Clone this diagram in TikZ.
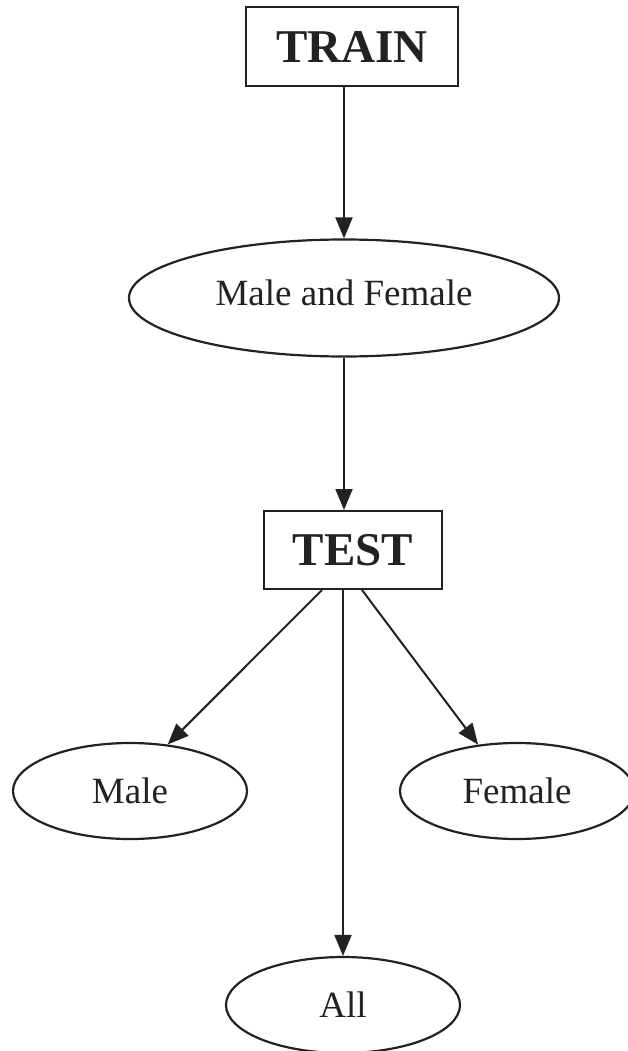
\documentclass[tikz,border=0pt]{standalone}
\usepackage{fontspec}
\setmainfont{Liberation Serif}
\usetikzlibrary{shapes.geometric,arrows.meta}
\definecolor{ink}{HTML}{222222}
\begin{document}
\begin{tikzpicture}[x=1pt,y=-1pt,
  stagebox/.style={draw=ink,line width=2pt,rectangle,inner sep=0pt,
    font=\fontsize{47}{50}\selectfont\bfseries,text=ink},
  groupoval/.style={draw=ink,line width=2.2pt,ellipse,inner sep=0pt,
    minimum width=234pt,minimum height=96pt,
    font=\fontsize{37}{40}\selectfont,text=ink},
  link/.style={draw=ink,line width=2pt,-{Triangle[length=21pt,width=17pt]}}]
\useasboundingbox (0,0) rectangle (627,1051);
\fill[white] (0,0) rectangle (627,1051);

\node[stagebox,minimum width=212pt,minimum height=79pt] (train) at (352,46.5) {TRAIN};
\node[groupoval,minimum width=430pt,minimum height=117pt] (mf) at (344,298)
  {\raisebox{10pt}{Male and Female}};
\node[stagebox,minimum width=178pt,minimum height=78pt] (test) at (353,550) {TEST};
\node[groupoval] (male) at (130,791) {Male};
\node[groupoval] (female) at (517,791) {Female};
\node[groupoval] (all) at (343,1005) {All};

\draw[link] (train.south -| mf.north) -- (mf.north);
\draw[link] (mf.south) -- (mf.south |- test.north);
\draw[link] ([xshift=-31pt]test.south) -- (male.51);
\draw[link] ([xshift=9pt]test.south) -- (female.130);
\draw[link] (test.south -| all.north) -- (all.north);
\end{tikzpicture}
\end{document}
